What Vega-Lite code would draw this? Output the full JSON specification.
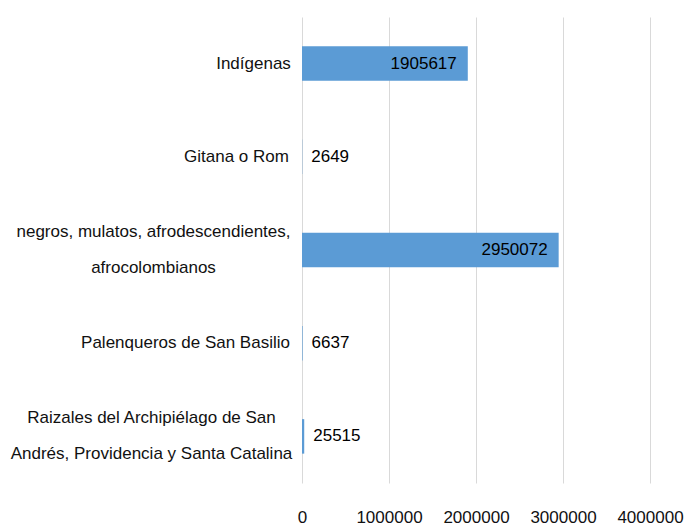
{
  "$schema": "https://vega.github.io/schema/vega-lite/v6.json",
  "autosize": "none",
  "width": 348,
  "height": 466,
  "padding": {"left": 302, "top": 17, "right": 47, "bottom": 49},
  "background": "white",
  "config": {
    "view": {"stroke": null},
    "font": "Liberation Sans, Arial, sans-serif"
  },
  "data": {
    "values": [
      {"grupo": "Indígenas", "poblacion": 1905617},
      {"grupo": "Gitana o Rom", "poblacion": 2649},
      {"grupo": "negros, mulatos, afrodescendientes,|afrocolombianos", "poblacion": 2950072},
      {"grupo": "Palenqueros de San Basilio", "poblacion": 6637},
      {"grupo": "Raizales del Archipiélago de San|Andrés, Providencia y Santa Catalina", "poblacion": 25515}
    ]
  },
  "encoding": {
    "y": {
      "field": "grupo",
      "type": "nominal",
      "sort": null,
      "scale": {"paddingInner": 0.63, "paddingOuter": 0.315},
      "axis": {
        "title": null,
        "ticks": false,
        "domain": false,
        "grid": false,
        "labelExpr": "split(datum.value, '|')",
        "labelFont": "Liberation Sans, Arial, sans-serif",
        "labelFontSize": 17,
        "labelColor": "#111111",
        "labelLineHeight": 36,
        "labelAlign": "center",
        "labelBaseline": "middle",
        "labelLimit": 400,
        "labelOffset": {"expr": "indexof(datum.value, '|') >= 0 ? -18 : 0"},
        "labelPadding": {"expr": "datum.value == 'Indígenas' ? 49 : datum.value == 'Gitana o Rom' ? 66 : indexof(datum.value, 'negros') == 0 ? 149 : indexof(datum.value, 'Palenqueros') == 0 ? 117 : 151"}
      }
    },
    "x": {
      "field": "poblacion",
      "type": "quantitative",
      "scale": {"domain": [0, 4000000], "nice": false},
      "axis": {
        "title": null,
        "values": [0, 1000000, 2000000, 3000000, 4000000],
        "format": "d",
        "ticks": false,
        "domain": false,
        "grid": true,
        "gridColor": "#d9d9d9",
        "gridWidth": 1,
        "labelFont": "Liberation Sans, Arial, sans-serif",
        "labelFontSize": 17,
        "labelColor": "#111111",
        "labelPadding": 26,
        "labelFlush": false
      }
    }
  },
  "layer": [
    {"mark": {"type": "bar", "color": "#5b9bd5"}},
    {
      "transform": [{"filter": "datum.poblacion > 100000"}],
      "mark": {"type": "text", "align": "right", "baseline": "middle", "dx": -11, "fontSize": 17, "color": "#000000", "font": "Liberation Sans, Arial, sans-serif"},
      "encoding": {"text": {"field": "poblacion", "type": "quantitative", "format": "d"}}
    },
    {
      "transform": [{"filter": "datum.poblacion <= 100000"}],
      "mark": {"type": "text", "align": "left", "baseline": "middle", "dx": 9, "fontSize": 17, "color": "#000000", "font": "Liberation Sans, Arial, sans-serif"},
      "encoding": {"text": {"field": "poblacion", "type": "quantitative", "format": "d"}}
    }
  ]
}
